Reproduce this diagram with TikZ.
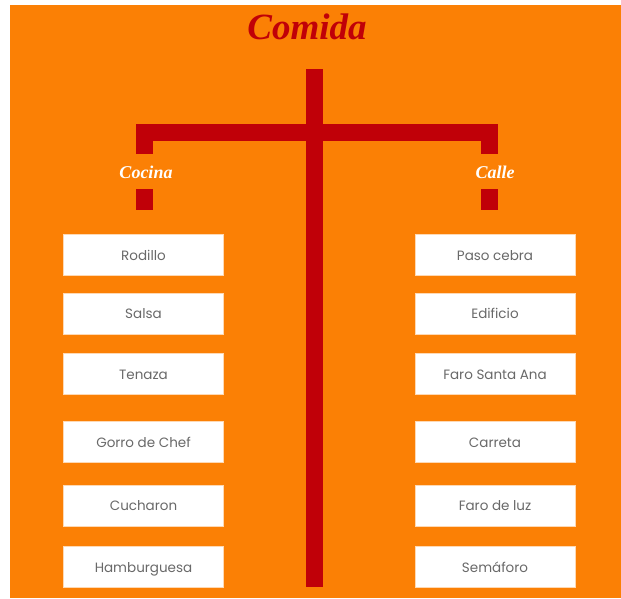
\documentclass[tikz,border=0pt]{standalone}
\usepackage{fontspec}
\setmainfont{Liberation Serif}
\newfontfamily\itemfont{Poppins}
\usetikzlibrary{positioning}
\definecolor{fondo}{RGB}{251,128,5}
\definecolor{rojo}{RGB}{192,0,8}
\definecolor{gris}{RGB}{105,105,105}

\begin{document}
\begin{tikzpicture}[x=1pt, y=-1pt, style={align=center}]
	\tikzset{
		itembox/.style={fill=white, draw=white!70!fondo, line width=0.6pt, minimum width=160pt, minimum height=41pt, inner sep=0pt, text height=11.5pt, text depth=1pt, font=\itemfont\fontsize{13.5}{13.5}\selectfont, text=gris},
		bar/.style={rojo, line width=17pt},
		branch/.style={font=\bfseries\itshape\fontsize{18}{18}\selectfont, text=white}
	}
	\useasboundingbox (0,0) rectangle (621,598);
	\fill[fondo] (10,5) rectangle (621,598);
	\node[font=\bfseries\itshape\fontsize{37}{37}\selectfont, text=rojo] (titulo) at (307,27) {Comida};
	% tree
	\coordinate (top) at (314.5,69);
	\coordinate (bottom) at (314.5,587);
	\coordinate (L) at (144.5,124);
	\coordinate (R) at (489.5,124);
	\draw[bar] (top) -- (bottom);
	\fill[rojo] (136,124) rectangle (498,141);
	\draw[bar] (L) -- ++(0,30);
	\draw[bar] (R) -- ++(0,30);
	\node[branch] (cocina) at (146,172) {Cocina};
	\node[branch] (calle) at (495,172) {Calle};
	\fill[rojo] (136,189) rectangle (153,210);
	\fill[rojo] (481,189) rectangle (498,210);
	% left column
	\node[itembox] (rodillo) at (143.5,255) {Rodillo};
	\node[itembox, below=17pt of rodillo] (salsa) {Salsa};
	\node[itembox, below=19pt of salsa] (tenaza) {Tenaza};
	\node[itembox, below=26pt of tenaza] (gorro) {Gorro de Chef};
	\node[itembox, below=22pt of gorro] (cucharon) {Cucharon};
	\node[itembox, below=20pt of cucharon] (hamburguesa) {Hamburguesa};
	% right column
	\node[itembox] (paso) at (495,255) {Paso cebra};
	\node[itembox, below=17pt of paso] (edificio) {Edificio};
	\node[itembox, below=19pt of edificio] (faro) {Faro Santa Ana};
	\node[itembox, below=26pt of faro] (carreta) {Carreta};
	\node[itembox, below=22pt of carreta] (faroluz) {Faro de luz};
	\node[itembox, below=20pt of faroluz] (semaforo) {Semáforo};
\end{tikzpicture}
\end{document}
